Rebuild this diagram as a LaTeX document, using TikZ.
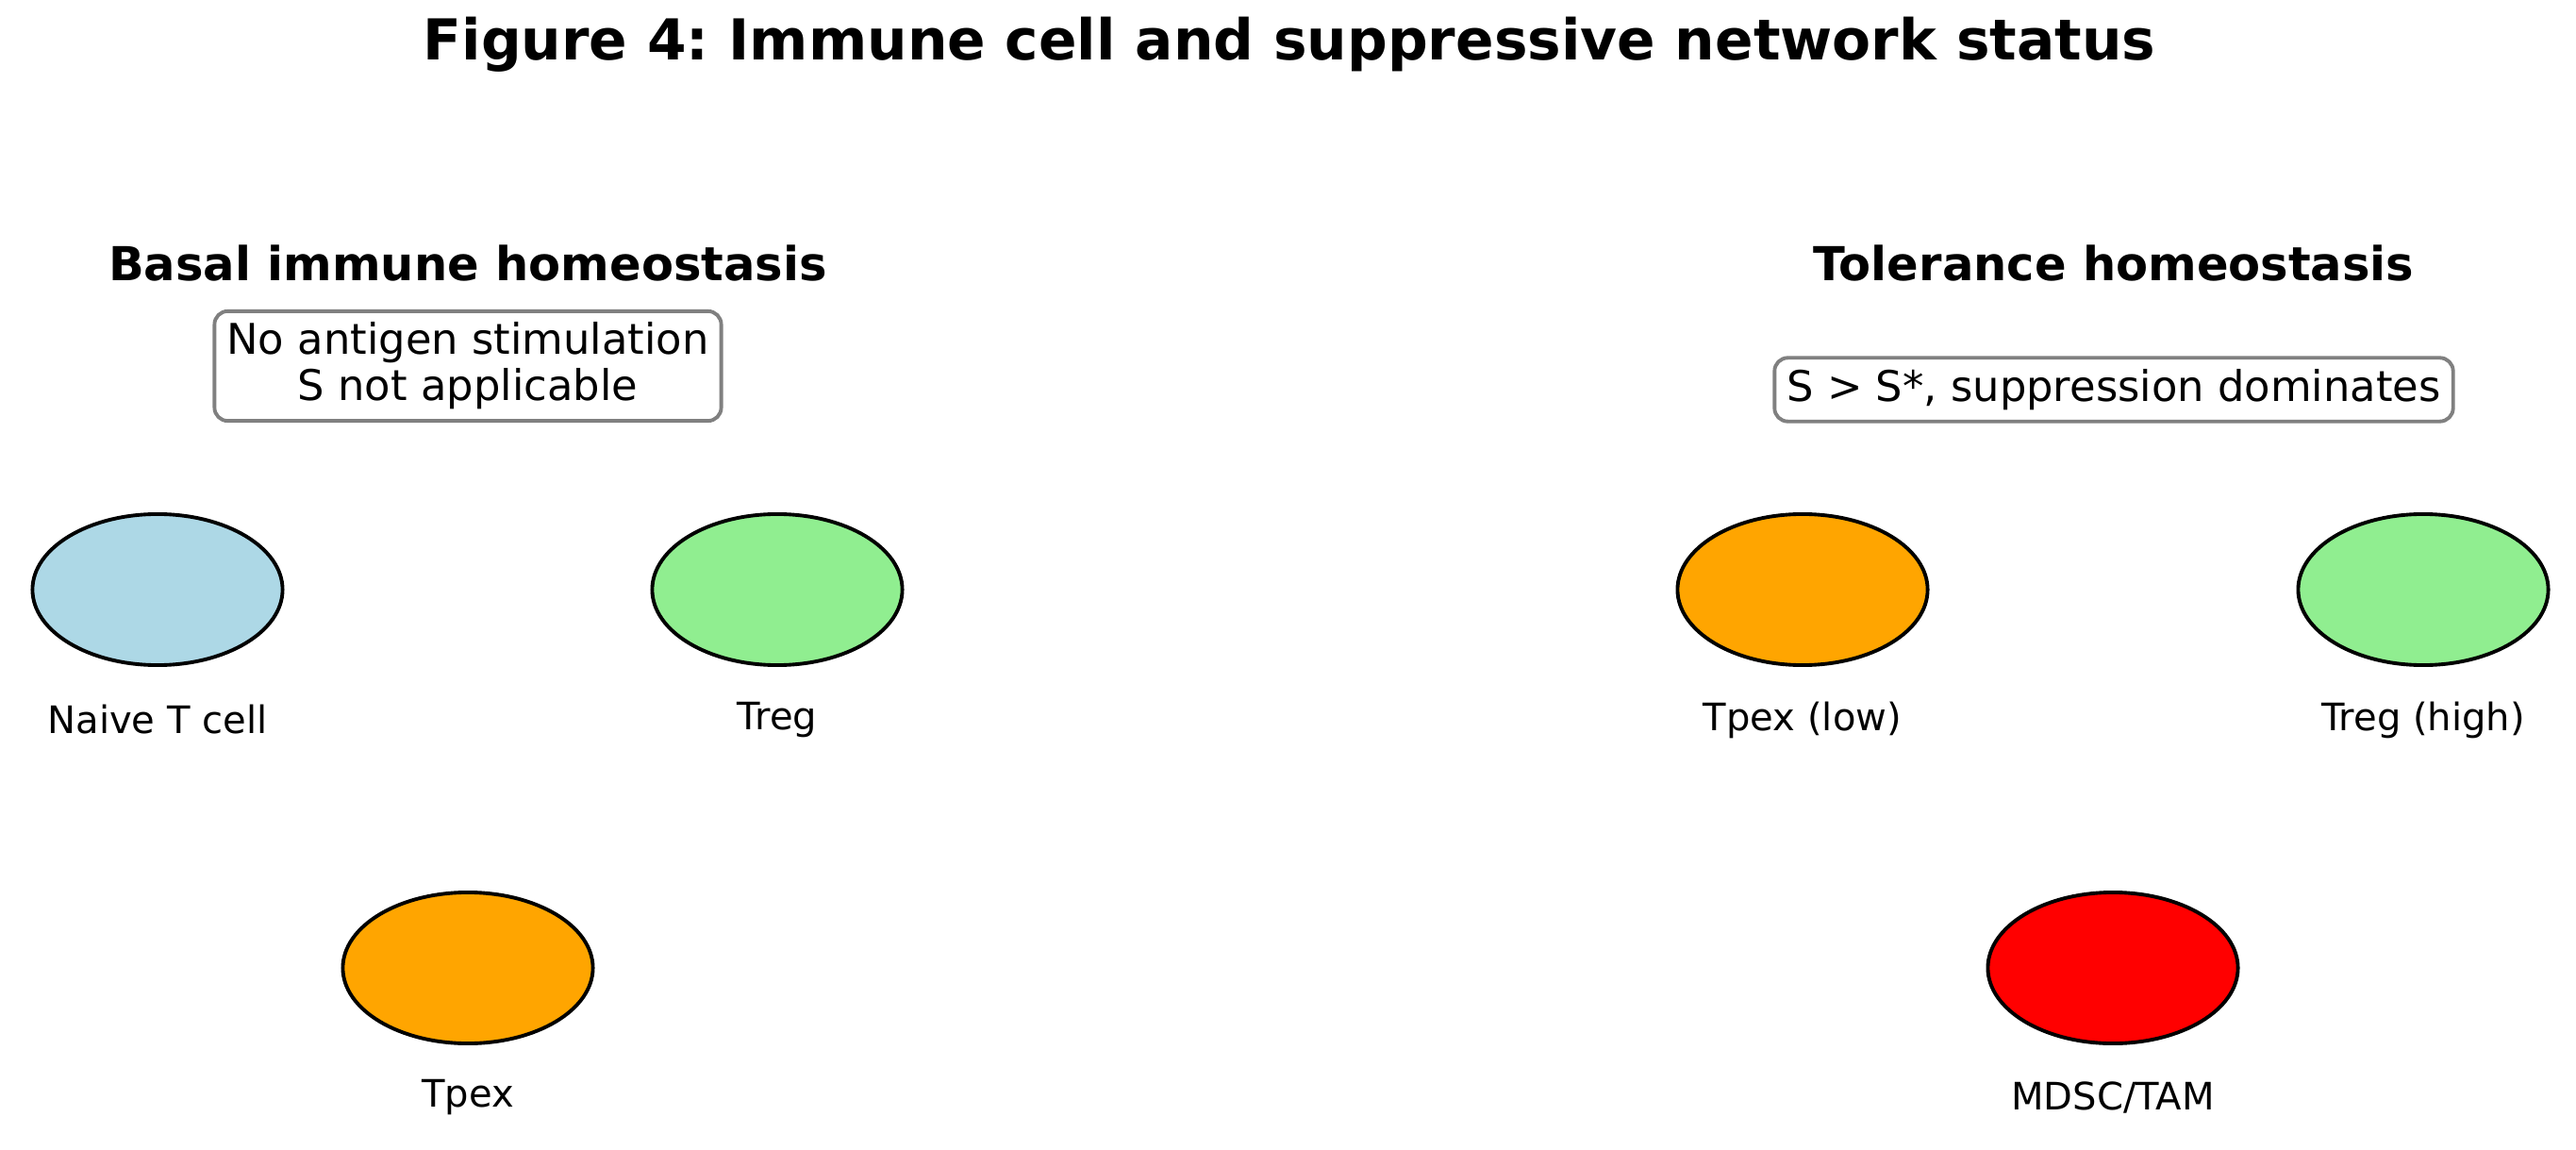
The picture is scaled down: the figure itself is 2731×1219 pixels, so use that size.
\documentclass[tikz,border=0pt]{standalone}
\usepackage{fontspec}
\setmainfont{DejaVu Sans}
\frenchspacing
\usetikzlibrary{shapes.geometric,positioning}
\definecolor{naiveblue}{HTML}{ADD8E6}
\definecolor{treggreen}{HTML}{90EE90}
\definecolor{tpexorange}{HTML}{FFA500}
\definecolor{mdscred}{HTML}{FF0000}
\definecolor{boxedge}{HTML}{808080}

\begin{document}
\begin{tikzpicture}[x=0.01cm,y=-0.01cm,cell/.style={ellipse,draw=black,line width=1.1pt,minimum width=2.65cm,minimum height=1.6cm,inner sep=0pt},cellname/.style={font=\fontsize{11.4}{13.6}\selectfont,inner sep=0pt},status/.style={rounded corners=4pt,draw=boxedge,line width=1.1pt,fill=white,align=center,inner xsep=0.13cm,inner ysep=0.12cm,font=\fontsize{12.75}{13.9}\selectfont},panelhead/.style={font=\fontsize{14.1}{16.5}\selectfont\bfseries,inner sep=0pt}]
 \useasboundingbox (0,0) rectangle (2731,1219);
 \node[font=\fontsize{17}{20}\selectfont\bfseries,inner sep=0pt] (title) at (1367,47) {Figure 4: Immune cell and suppressive network status};
 % left panel
 \node[panelhead] (basal) at (496,279) {Basal immune homeostasis};
 \node[status] (basalnote) at (496,388) {No antigen stimulation\\S not applicable};
 \node[cell,fill=naiveblue] (naive) at (167,625) {};
 \node[cell,fill=treggreen] (treg) at (824,625) {};
 \node[cell,fill=tpexorange] (tpex) at (496,1026) {};
 \node[cellname] (naivelbl) at (167,763) {Naive T cell};
 \node[cellname] (treglbl) at (824,763) {Treg};
 \node[cellname] (tpexlbl) at (496,1163) {Tpex};
 % right panel
 \node[panelhead] (tolerance) at (2241,279) {Tolerance homeostasis};
 \node[status] (tolnote) at (2241,413) {S > S*, suppression dominates};
 \node[cell,fill=tpexorange] (tpexlow) at (1911,625) {};
 \node[cell,fill=treggreen] (treghigh) at (2569,625) {};
 \node[cell,fill=mdscred] (mdsc) at (2240,1026) {};
 \node[cellname] (tpexlowlbl) at (1911,763) {Tpex (low)};
 \node[cellname] (treghighlbl) at (2569,763) {Treg (high)};
 \node[cellname] (mdsclbl) at (2240,1163) {MDSC/TAM};
\end{tikzpicture}
\end{document}
